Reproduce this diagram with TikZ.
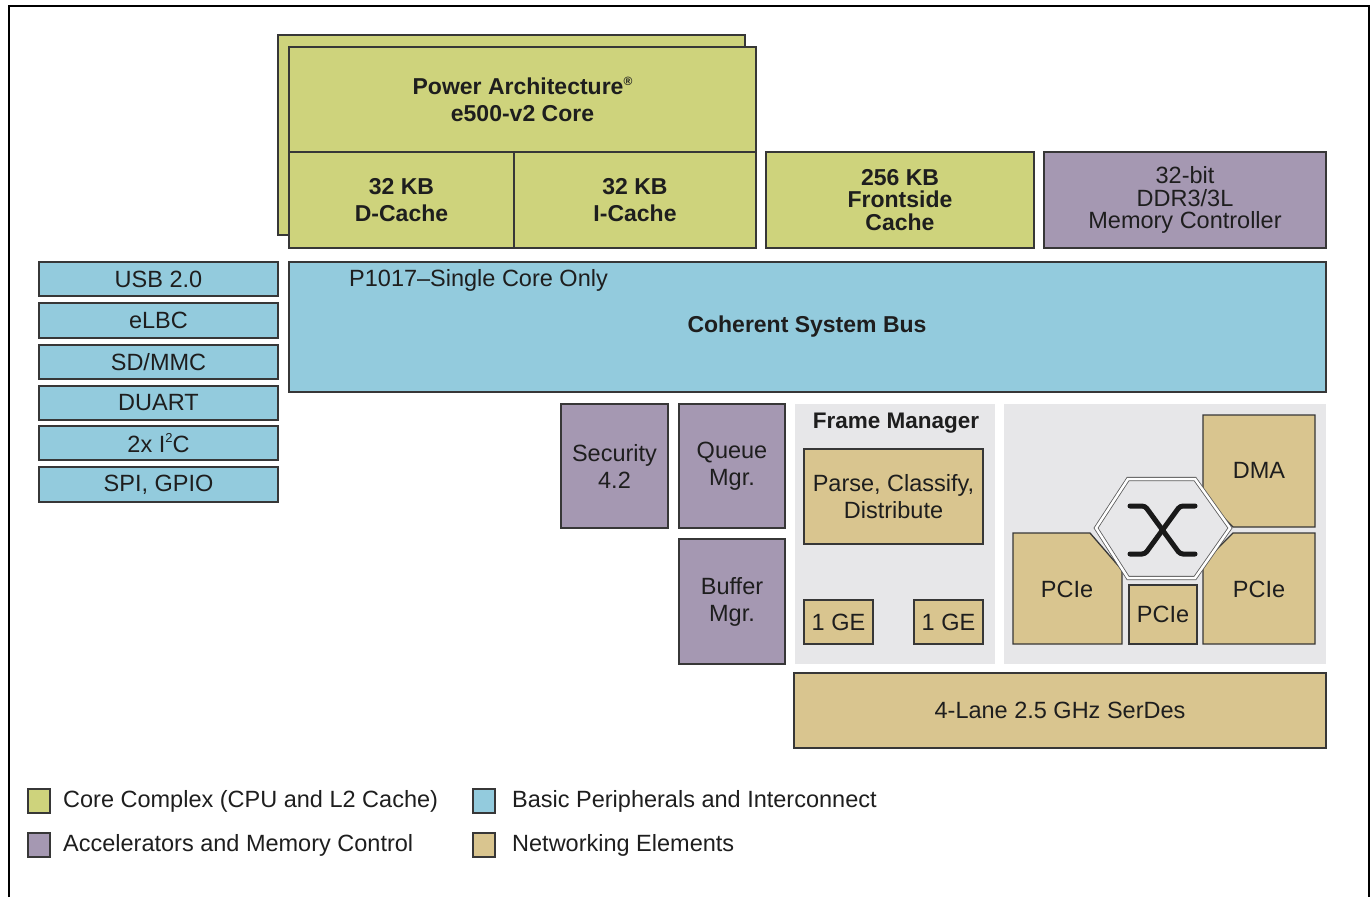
\documentclass[tikz,border=0pt]{standalone}
\usepackage{fontspec}
\setmainfont{Liberation Sans}
\definecolor{corec}{RGB}{206,211,124}
\definecolor{bluec}{RGB}{147,203,221}
\definecolor{purpc}{RGB}{165,152,178}
\definecolor{tanc}{RGB}{217,197,143}
\definecolor{panelc}{RGB}{231,231,233}
\definecolor{edgec}{RGB}{55,55,55}
\definecolor{txtc}{RGB}{30,30,30}
\newcommand\blk[7]{\node[#1, minimum width={#5pt-#3pt}, minimum height={#6pt-#4pt}] (#2) at ({(#3+#5)/2},{(#4+#6)/2}) {#7};}
\tikzset{
  every node/.style={text=txtc, font=\fontsize{23.5}{27}\selectfont},
  blkbase/.style={draw=edgec, line width=1.3pt, inner sep=0pt, outer sep=0pt, align=center},
  coreb/.style={blkbase, fill=corec, font=\fontsize{23}{27}\selectfont\bfseries},
  coretight/.style={blkbase, fill=corec, font=\fontsize{23}{22.5}\selectfont\bfseries},
  periph/.style={blkbase, fill=bluec},
  accel/.style={blkbase, fill=purpc},
  acceltight/.style={blkbase, fill=purpc, font=\fontsize{23.5}{22.5}\selectfont},
  netw/.style={blkbase, fill=tanc},
  panel/.style={fill=panelc, draw=none, inner sep=0pt, outer sep=0pt},
  netshape/.style={fill=tanc, draw=edgec, line width=1.3pt},
  legsq/.style={draw=edgec, line width=1.3pt, minimum width=22pt, minimum height=24pt, inner sep=0pt},
  legtxt/.style={anchor=west, inner sep=0pt},
  frame/.style={line width=2.6pt, draw=black}
}
\begin{document}
\begin{tikzpicture}[x=1pt,y=-1pt]
\useasboundingbox (0,0) rectangle (1372,897);
% outer frame
\coordinate (fbl) at (9,897);
\coordinate (ftl) at (9,6);
\coordinate (ftr) at (1369,6);
\coordinate (fbr) at (1369,897);
\draw[frame] (fbl) -- (ftl) -- (ftr) -- (fbr);

% core complex
\blk{coreb}{coreback}{278}{35}{745}{235}{}
\blk{coreb}{core}{289}{47}{756}{152}{Power Architecture\raisebox{0.75ex}{\fontsize{12}{12}\selectfont ®}\\e500-v2 Core}
\blk{coreb}{dcache}{289}{152}{514}{248}{32 KB\\D-Cache}
\blk{coreb}{icache}{514}{152}{756}{248}{32 KB\\I-Cache}
\blk{coretight}{l2}{766}{152}{1034}{248}{256 KB\\Frontside\\Cache}
\blk{acceltight}{ddr}{1044}{152}{1326}{248}{32-bit\\DDR3/3L\\Memory Controller}

% coherent system bus
\blk{periph}{csb}{289}{262}{1326}{392}{}
\node[font=\fontsize{23}{27}\selectfont\bfseries] (csbl) at (807,327) {Coherent System Bus};
\node[anchor=west, inner sep=0pt] (p1017) at (349,280) {P1017–Single Core Only};

% peripherals
\blk{periph}{usb}{39}{262}{278}{296}{USB 2.0}
\blk{periph}{elbc}{39}{303}{278}{338}{eLBC}
\blk{periph}{sdmmc}{39}{345}{278}{379}{SD/MMC}
\blk{periph}{duart}{39}{386}{278}{420}{DUART}
\blk{periph}{iic}{39}{426}{278}{460}{2x I\raisebox{0.75ex}{\fontsize{13}{13}\selectfont 2}C}
\blk{periph}{spi}{39}{467}{278}{502}{SPI, GPIO}

% accelerators
\blk{accel}{sec}{561}{404}{668}{528}{Security\\4.2}
\blk{accel}{qm}{679}{404}{785}{528}{Queue\\Mgr.}
\blk{accel}{bm}{679}{539}{785}{664}{Buffer\\Mgr.}

% frame manager
\blk{panel}{fmpanel}{795}{404}{995}{664}{}
\node[font=\fontsize{22.5}{27}\selectfont\bfseries] (fmt) at (896,423) {Frame Manager};
\blk{netw}{pcd}{804}{449}{983}{544}{Parse, Classify,\\Distribute}
\blk{netw}{ge1}{804}{600}{873}{644}{1 GE}
\blk{netw}{ge2}{914}{600}{983}{644}{1 GE}

% PCIe / DMA panel
\blk{panel}{iopanel}{1004}{404}{1326}{664}{}
\draw[netshape] (1203,415) -- (1315,415) -- (1315,527) -- (1233,527) -- (1203,497) -- cycle;
\node (dma) at (1259,470) {DMA};
\draw[netshape] (1013,533) -- (1090,533) -- (1122,570) -- (1122,644) -- (1013,644) -- cycle;
\node (pcie1) at (1067,589) {PCIe};
\draw[netshape] (1233,533) -- (1315,533) -- (1315,644) -- (1203,644) -- (1203,563) -- cycle;
\node (pcie3) at (1259,589) {PCIe};
\blk{netw}{pcie2}{1129}{585}{1197}{644}{PCIe}
% crossbar hexagon
\draw[fill=panelc, draw=gray!70!black, line width=0.8pt, double=white, double distance=2.5pt]
  (1128,479) -- (1195,479) -- (1230,528) -- (1195,578) -- (1128,578) -- (1096,528) -- cycle;
\coordinate (xa1) at (1130,506);
\coordinate (xa2) at (1145,506);
\coordinate (xa3) at (1180,554);
\coordinate (xa4) at (1195,554);
\coordinate (xb1) at (1195,506);
\coordinate (xb2) at (1180,506);
\coordinate (xb3) at (1145,554);
\coordinate (xb4) at (1130,554);
\draw[line width=5pt, line cap=round, rounded corners=3pt, draw=black!90] (xa1) -- (xa2) -- (xa3) -- (xa4);
\draw[line width=5pt, line cap=round, rounded corners=3pt, draw=black!90] (xb1) -- (xb2) -- (xb3) -- (xb4);

% serdes
\blk{netw}{serdes}{794}{673}{1326}{748}{4-Lane 2.5 GHz SerDes}

% legend
\node[legsq, fill=corec] (lg1) at (39,801) {};
\node[legtxt] (lt1) at (63,801) {Core Complex (CPU and L2 Cache)};
\node[legsq, fill=purpc] (lg2) at (39,845) {};
\node[legtxt] (lt2) at (63,845) {Accelerators and Memory Control};
\node[legsq, fill=bluec] (lg3) at (484,801) {};
\node[legtxt] (lt3) at (512,801) {Basic Peripherals and Interconnect};
\node[legsq, fill=tanc] (lg4) at (484,845) {};
\node[legtxt] (lt4) at (512,845) {Networking Elements};
\end{tikzpicture}
\end{document}
